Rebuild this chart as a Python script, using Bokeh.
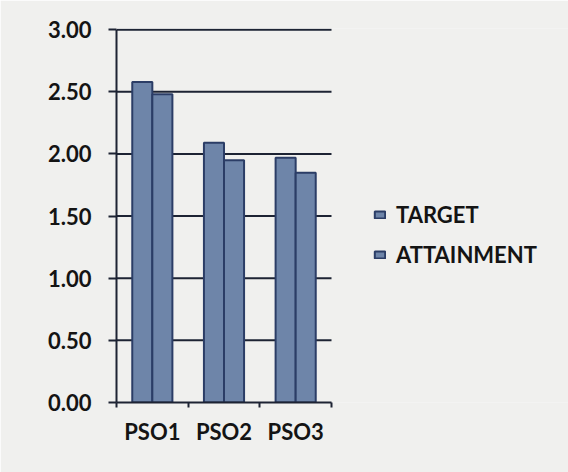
from bokeh.plotting import figure
from bokeh.models import (ColumnDataSource, Range1d, FixedTicker, NumeralTickFormatter,
                          Legend, LegendItem)
from bokeh.embed import file_html
from bokeh.resources import INLINE

categories = ["PSO1", "PSO2", "PSO3"]
target = [2.58, 2.09, 1.97]
attainment = [2.48, 1.95, 1.85]
series_names = ["TARGET", "ATTAINMENT"]
y_ticks = [0.0, 0.5, 1.0, 1.5, 2.0, 2.5, 3.0]

BG = "#f0f0ee"
BAR_FILL = "#6e85a9"
BAR_LINE = "#2b3d66"
DARK = "#1d2333"
TEXT = "#141414"
FONT = "Lato"

n = len(categories)
centers = [i + 0.5 for i in range(n)]
src = ColumnDataSource(dict(
    x_t=[c - 0.14 for c in centers],
    x_a=[c + 0.14 for c in centers],
    target=target,
    attainment=attainment,
))
grid_src = ColumnDataSource(dict(y=y_ticks[1:], x0=[0] * (len(y_ticks) - 1),
                                 x1=[n] * (len(y_ticks) - 1)))

# plot area extends to the right so the legend can live inside it
p = figure(width=568, height=472, output_backend="svg", toolbar_location=None,
           x_range=Range1d(0, n * 452 / 215), y_range=Range1d(0, 3.01),
           min_border_left=116, min_border_right=0, min_border_top=28,
           min_border_bottom=70, background_fill_color=BG, border_fill_color=BG,
           outline_line_color=None)

p.segment(x0="x0", x1="x1", y0="y", y1="y", source=grid_src,
          line_color=DARK, line_width=2, level="underlay")

r1 = p.vbar(x="x_t", top="target", width=0.28, source=src,
            fill_color=BAR_FILL, line_color=BAR_LINE, line_width=2)
r2 = p.vbar(x="x_a", top="attainment", width=0.28, source=src,
            fill_color=BAR_FILL, line_color=BAR_LINE, line_width=2)

# x axis: labels at category centers, small ticks at category boundaries
p.xaxis.bounds = (0, n)
p.xaxis.ticker = FixedTicker(ticks=centers, minor_ticks=list(range(n + 1)))
p.xaxis.major_label_overrides = {c: name for c, name in zip(centers, categories)}
p.xaxis.major_tick_out = 0
p.xaxis.major_tick_in = 0
p.xaxis.minor_tick_out = 5
p.xaxis.minor_tick_in = 0
p.xaxis.minor_tick_line_color = DARK
p.xaxis.minor_tick_line_width = 2
p.xaxis.axis_line_color = DARK
p.xaxis.axis_line_width = 2
p.xaxis.major_label_text_font = FONT
p.xaxis.major_label_text_font_style = "bold"
p.xaxis.major_label_text_font_size = "22px"
p.xaxis.major_label_text_color = TEXT
p.xaxis.major_label_standoff = 10

p.yaxis.bounds = (0, 3.0)
p.yaxis.ticker = FixedTicker(ticks=y_ticks)
p.yaxis.formatter = NumeralTickFormatter(format="0.00")
p.yaxis.minor_tick_line_color = None
p.yaxis.major_tick_out = 8
p.yaxis.major_tick_in = 0
p.yaxis.major_tick_line_color = DARK
p.yaxis.major_tick_line_width = 2
p.yaxis.axis_line_color = DARK
p.yaxis.axis_line_width = 2
p.yaxis.major_label_text_font = FONT
p.yaxis.major_label_text_font_style = "bold"
p.yaxis.major_label_text_font_size = "22px"
p.yaxis.major_label_text_color = TEXT
p.yaxis.major_label_standoff = 17

p.xgrid.grid_line_color = None
p.ygrid.grid_line_color = None

legend = Legend(items=[LegendItem(label=series_names[0], renderers=[r1]),
                       LegendItem(label=series_names[1], renderers=[r2])],
                location=(257, 134), orientation="vertical",
                glyph_width=13, glyph_height=9, label_standoff=10,
                spacing=13, padding=0, margin=0,
                border_line_color=None, background_fill_alpha=0,
                label_text_font=FONT, label_text_font_size="22px",
                label_text_color=TEXT, label_text_font_style="bold")
p.add_layout(legend)

open("out.html", "w").write(file_html(p, INLINE))
